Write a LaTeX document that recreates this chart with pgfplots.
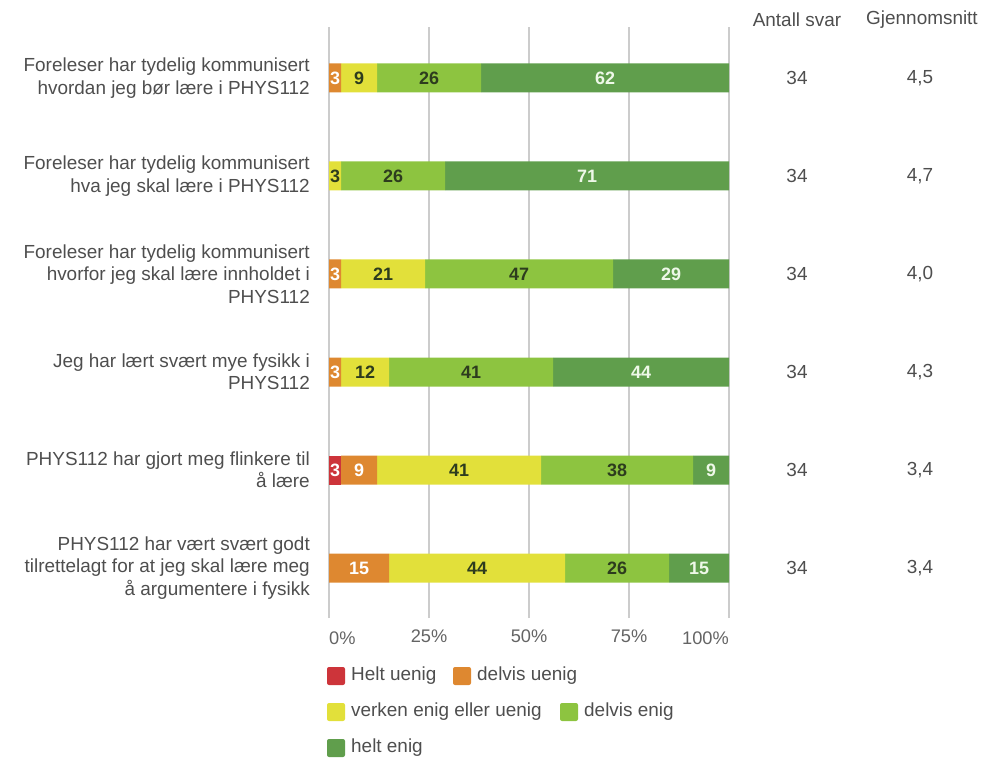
\documentclass[border=0pt]{standalone}
\usepackage{pgfplots}
\pgfplotsset{compat=1.18}
\usepackage{fontspec}
\setmainfont{Liberation Sans}
\definecolor{cRed}{RGB}{205,52,58}
\definecolor{cOrange}{RGB}{222,136,48}
\definecolor{cYellow}{RGB}{226,224,58}
\definecolor{cLight}{RGB}{141,196,64}
\definecolor{cDark}{RGB}{96,158,76}
\definecolor{txt}{RGB}{78,78,78}
\definecolor{tick}{RGB}{100,100,100}
\definecolor{grd}{RGB}{204,204,204}
\definecolor{lbldark}{RGB}{45,60,30}
\definecolor{lbllight}{RGB}{238,248,232}
\newcommand{\lblfont}{\fontsize{19}{22.5}\selectfont}

% segment labels (stacked nodes sit in the middle of their segment already)
\pgfplotsset{
  seg/.style 2 args={fill=#1, draw=none,
    visualization depends on=rawx \as \rawx,
    nodes near coords={\ifdim\rawx pt>0pt\pgfmathprintnumber{\rawx}\fi},
    /pgf/number format/assume math mode=true,
    every node near coord/.append style={text=#2, anchor=center, inner sep=0pt,
      font=\fontsize{18}{20}\selectfont\bfseries}},
}

\begin{document}
\begin{tikzpicture}[x=1bp,y=1bp]
\path[use as bounding box] (0,0) rectangle (985,-760);
\begin{axis}[
  at={(329bp,-618bp)}, anchor=south west,
  scale only axis, width=400bp, height=591bp,
  xbar stacked, bar width=29bp,
  xmin=0, xmax=100, ymin=-0.51, ymax=5.52,
  axis line style={draw=none},
  major tick length=0pt,
  xmajorgrids, grid style={grd, line width=1.6bp},
  xtick={0,25,50,75,100}, xticklabels={,25\%,50\%,75\%,},
  xticklabel style={font=\fontsize{18.3}{20}\selectfont, text=tick, anchor=north, yshift=-8bp},
  ytick={0,1,2,3,4,5},
  yticklabels={
    {PHYS112 har vært svært godt\\tilrettelagt for at jeg skal lære meg\\å argumentere i fysikk},
    {PHYS112 har gjort meg flinkere til\\å lære},
    {Jeg har lært svært mye fysikk i\\PHYS112},
    {Foreleser har tydelig kommunisert\\hvorfor jeg skal lære innholdet i\\PHYS112},
    {Foreleser har tydelig kommunisert\\hva jeg skal lære i PHYS112},
    {Foreleser har tydelig kommunisert\\hvordan jeg bør lære i PHYS112}},
  yticklabel style={font=\lblfont, text=txt, align=right, anchor=east, inner sep=0pt, xshift=-19bp},
  clip=false,
]
% helt uenig
\addplot[seg={cRed}{white}] coordinates {(0,5) (0,4) (0,3) (0,2) (3,1) (0,0)};
% delvis uenig
\addplot[seg={cOrange}{white}] coordinates {(3,5) (0,4) (3,3) (3,2) (9,1) (15,0)};
% verken enig eller uenig
\addplot[seg={cYellow}{lbldark}] coordinates {(9,5) (3,4) (21,3) (12,2) (41,1) (44,0)};
% delvis enig
\addplot[seg={cLight}{lbldark}] coordinates {(26,5) (26,4) (47,3) (41,2) (38,1) (26,0)};
% helt enig
\addplot[seg={cDark}{lbllight}] coordinates {(62,5) (71,4) (29,3) (44,2) (9,1) (15,0)};

\node[font=\fontsize{18.3}{20}\selectfont, text=tick, anchor=north west, inner sep=0pt] at ([yshift=-14bp]rel axis cs:0,0) {0\%};
\node[font=\fontsize{18.3}{20}\selectfont, text=tick, anchor=north east, inner sep=0pt] at ([yshift=-14bp]rel axis cs:1,0) {100\%};
\end{axis}

% side columns
\begin{scope}[every node/.style={font=\fontsize{19}{20}\selectfont, text=txt}]
\node at (797,-20) {Antall svar};
\node at (922,-20) {Gjennomsnitt};
\foreach \i/\m in {0/{4,5},1/{4,7},2/{4,0},3/{4,3},4/{3,4},5/{3,4}} {
  \node at (797,{-78-98*\i}) {34};
  \node at (920,{-78-98*\i}) {\m};
}
\end{scope}

% legend
\begin{scope}[every node/.style={font=\lblfont, text=txt, anchor=west, inner sep=0pt}]
\fill[cRed, rounded corners=2bp] (327,-667) rectangle (345,-685);
\node at (351,-676) {Helt uenig};
\fill[cOrange, rounded corners=2bp] (453,-667) rectangle (471,-685);
\node at (477,-676) {delvis uenig};
\fill[cYellow, rounded corners=2bp] (327,-703) rectangle (345,-721);
\node at (351,-712) {verken enig eller uenig};
\fill[cLight, rounded corners=2bp] (560,-703) rectangle (578,-721);
\node at (584,-712) {delvis enig};
\fill[cDark, rounded corners=2bp] (327,-739) rectangle (345,-757);
\node at (351,-748) {helt enig};
\end{scope}
\end{tikzpicture}
\end{document}
